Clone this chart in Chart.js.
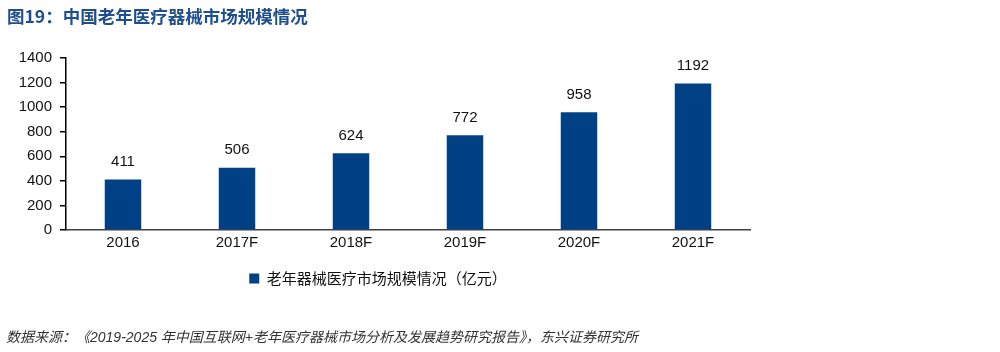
<!DOCTYPE html>
<html>
<head>
<meta charset="utf-8">
<script src="https://cdn.jsdelivr.net/npm/chart.js@4.4.0/dist/chart.umd.min.js"></script>
<style>
  body { margin: 0; background: #fff; }
  #wrap { position: relative; width: 1000px; height: 352px; overflow: hidden; }
  #title { position: absolute; left: 7px; top: 3px; font: bold 17.5px "Noto Sans CJK SC", "Liberation Sans", sans-serif; color: #1f4e8c; white-space: nowrap; }
  #note { position: absolute; left: 6px; top: 326px; font: italic 14px "Liberation Sans", "Noto Sans CJK SC", sans-serif; color: #333; white-space: nowrap; }
  #box { position: absolute; left: 0; top: 0; width: 1000px; height: 352px; }
</style>
</head>
<body>
<div id="wrap">
  <div id="box"><canvas id="market"></canvas></div>
  <div id="title">图19：中国老年医疗器械市场规模情况</div>
  <div id="note">数据来源：《2019-2025 年中国互联网+老年医疗器械市场分析及发展趋势研究报告》，东兴证券研究所</div>
</div>
<script>
var years = ['2016', '2017F', '2018F', '2019F', '2020F', '2021F'];
var size = [411, 506, 624, 772, 958, 1192];//亿元
var yTicks = [0, 200, 400, 600, 800, 1000, 1200, 1400];

// numbers above the bars
var valueLabels = {
    id: 'valueLabels',
    afterDatasetsDraw: function (chart) {
        var ctx = chart.ctx;
        var meta = chart.getDatasetMeta(0);
        ctx.save();
        ctx.font = '15px "Liberation Sans", Arial, sans-serif';
        ctx.fillStyle = '#111';
        ctx.textAlign = 'center';
        ctx.textBaseline = 'bottom';
        meta.data.forEach(function (bar, i) {
            ctx.fillText(size[i], bar.x, bar.y - 10);
        });
        ctx.restore();
    }
};

var ctx = document.getElementById('market').getContext('2d');
var chart = new Chart(ctx, {
    type: 'bar',
    data: {
        labels: years,
        datasets: [{
            label: '老年器械医疗市场规模情况（亿元）',
            data: size,
            backgroundColor: '#004186',
            borderWidth: 0,
            categoryPercentage: 1,
            barPercentage: 0.32
        }]
    },
    options: {
        responsive: true,
        maintainAspectRatio: false,
        animation: false,
        layout: {
            padding: { left: 6, right: 250, top: 58, bottom: 56 }
        },
        plugins: {
            tooltip: { enabled: false },
            legend: {
                position: 'bottom',
                labels: {
                    color: '#111',
                    font: { size: 15, family: '"Noto Sans CJK SC", sans-serif' },
                    usePointStyle: true,
                    pointStyle: 'rect',
                    boxWidth: 10,
                    boxHeight: 10,
                    padding: 10
                }
            }
        },
        scales: {
            x: {
                grid: { display: false, drawTicks: false },
                border: { display: true, color: '#404040', width: 1.5 },
                ticks: {
                    color: '#111',
                    padding: 4,
                    font: { size: 15, family: '"Liberation Sans", Arial, sans-serif' }
                },
                afterFit: function (scale) { scale.height = 31; }
            },
            y: {
                min: 0,
                max: 1400,
                afterBuildTicks: function (scale) {
                    scale.ticks = yTicks.map(function (v) { return { value: v }; });
                },
                grid: {
                    drawOnChartArea: false,
                    drawTicks: true,
                    tickLength: 6,
                    color: '#000',
                    lineWidth: 1.5
                },
                border: { display: true, color: '#000', width: 1.5 },
                ticks: {
                    color: '#111',
                    padding: 8,
                    font: { size: 15, family: '"Liberation Sans", Arial, sans-serif' },
                    callback: function (v) { return String(v); }
                },
                afterFit: function (scale) { scale.width = 60; }
            }
        }
    },
    plugins: [valueLabels]
});
</script>
</body>
</html>
